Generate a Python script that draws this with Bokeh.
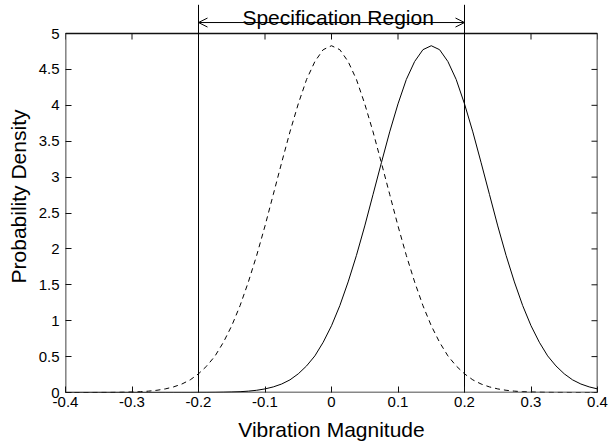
import math
from bokeh.plotting import figure
from bokeh.models import Range1d, FixedTicker, Arrow, OpenHead, Label
from bokeh.embed import file_html
from bokeh.resources import INLINE

# x positions of the sampled curve points
x_vals = [-0.4, -0.3875, -0.375, -0.3625, -0.35, -0.3375, -0.325, -0.3125,
          -0.3, -0.2875, -0.275, -0.2625, -0.25, -0.2375, -0.225, -0.2125,
          -0.2, -0.1875, -0.175, -0.1625, -0.15, -0.1375, -0.125, -0.1125,
          -0.1, -0.0875, -0.075, -0.0625, -0.05, -0.0375, -0.025, -0.0125,
          0.0, 0.0125, 0.025, 0.0375, 0.05, 0.0625, 0.075, 0.0875,
          0.1, 0.1125, 0.125, 0.1375, 0.15, 0.1625, 0.175, 0.1875,
          0.2, 0.2125, 0.225, 0.2375, 0.25, 0.2625, 0.275, 0.2875,
          0.3, 0.3125, 0.325, 0.3375, 0.35, 0.3625, 0.375, 0.3875, 0.4]
# dashed curve (centred at 0)
dashed_vals = [0.0, 0.0, 0.0, 0.0, 0.001, 0.001, 0.002, 0.004,
               0.007, 0.011, 0.019, 0.031, 0.05, 0.078, 0.118, 0.176,
               0.26, 0.37, 0.51, 0.70, 0.93, 1.21, 1.54, 1.91,
               2.32, 2.76, 3.20, 3.63, 4.02, 4.36, 4.61, 4.775,
               4.83, 4.775, 4.61, 4.36, 4.02, 3.63, 3.20, 2.76,
               2.32, 1.91, 1.54, 1.21, 0.93, 0.70, 0.51, 0.37,
               0.26, 0.176, 0.118, 0.078, 0.05, 0.031, 0.019, 0.011,
               0.007, 0.004, 0.002, 0.001, 0.001, 0.0, 0.0, 0.0, 0.0]
# solid curve (centred at 0.15)
solid_vals = [0.0, 0.0, 0.0, 0.0, 0.0, 0.0, 0.0, 0.0,
              0.0, 0.0, 0.0, 0.0, 0.0, 0.0, 0.0, 0.0,
              0.001, 0.001, 0.002, 0.004, 0.007, 0.011, 0.019, 0.031,
              0.05, 0.078, 0.118, 0.176, 0.26, 0.37, 0.51, 0.70,
              0.93, 1.21, 1.54, 1.91, 2.32, 2.76, 3.20, 3.63,
              4.02, 4.36, 4.61, 4.775, 4.83, 4.775, 4.61, 4.36,
              4.02, 3.63, 3.20, 2.76, 2.32, 1.91, 1.54, 1.21,
              0.93, 0.70, 0.51, 0.37, 0.26, 0.176, 0.118, 0.078, 0.05]
spec_limits = [-0.2, 0.2]
x_ticks = [-0.4, -0.3, -0.2, -0.1, 0.0, 0.1, 0.2, 0.3, 0.4]
x_tick_labels = ["-0.4", "-0.3", "-0.2", "-0.1", "0", "0.1", "0.2", "0.3", "0.4"]
y_ticks = [0, 0.5, 1, 1.5, 2, 2.5, 3, 3.5, 4, 4.5, 5]
y_tick_labels = ["0", "0.5", "1", "1.5", "2", "2.5", "3", "3.5", "4", "4.5", "5"]
region_label = "Specification Region"

FONT = "Liberation Sans"
FRAME = "#111111"

x_min, x_max = x_ticks[0], x_ticks[-1]
y_min, y_max = y_ticks[0], y_ticks[-1]

# the plotting area reaches above the axes box so the annotation above it can be drawn
p = figure(width=610, height=446, output_backend="svg", toolbar_location=None,
           x_range=Range1d(x_min, x_max), y_range=Range1d(y_min, 5.46),
           min_border_left=65, min_border_right=13, min_border_top=0,
           min_border_bottom=54)
p.background_fill_color = "white"
p.border_fill_color = "white"
p.outline_line_color = None
p.xgrid.visible = False
p.ygrid.visible = False

def style_axis(ax, ticks, labels):
    ax.ticker = FixedTicker(ticks=ticks)
    ax.major_label_overrides = {t: l for t, l in zip(ticks, labels)}
    ax.major_tick_in = 6
    ax.major_tick_out = 0
    ax.minor_tick_in = 0
    ax.minor_tick_out = 0
    ax.major_tick_line_color = FRAME
    ax.axis_line_color = None
    ax.major_label_text_font = FONT
    ax.major_label_text_color = "black"
    ax.major_label_text_font_size = "15px"
    ax.axis_label_text_font = FONT
    ax.axis_label_text_font_style = "normal"
    ax.axis_label_text_color = "black"
    ax.axis_label_text_font_size = "21px"

xa = p.xaxis[0]
style_axis(xa, x_ticks, x_tick_labels)
xa.axis_label = "Vibration Magnitude"
xa.major_label_standoff = 4
xa.axis_label_standoff = 8

ya = p.yaxis[0]
style_axis(ya, y_ticks, y_tick_labels)
ya.axis_label = "Probability Density"
ya.major_label_standoff = 6
ya.axis_label_standoff = 6

# axes box
p.quad(left=[x_min], right=[x_max], bottom=[y_min], top=[y_max],
       fill_color=None, line_color=FRAME, line_width=1.6)
# inward ticks on the top and right sides of the box
p.ray(x=x_ticks, y=[y_max] * len(x_ticks), length=6, length_units="screen",
      angle=-math.pi / 2, line_color=FRAME, line_width=1)
p.ray(x=[x_max] * len(y_ticks), y=y_ticks, length=6, length_units="screen",
      angle=math.pi, line_color=FRAME, line_width=1)

p.line(x_vals, dashed_vals, line_color="black", line_width=1, line_dash="5 4")
p.line(x_vals, solid_vals, line_color="black", line_width=1)

# specification limit lines (extend above the axes box)
p.segment(x0=spec_limits, y0=[y_min, y_min], x1=spec_limits, y1=[5.40, 5.40],
          line_color="black", line_width=1)

p.add_layout(Arrow(start=OpenHead(size=9, line_color="black", line_width=1),
                   end=OpenHead(size=9, line_color="black", line_width=1),
                   x_start=spec_limits[0], y_start=5.153, x_end=spec_limits[1], y_end=5.153,
                   line_color="black", line_width=1))
p.add_layout(Label(x=(spec_limits[0] + spec_limits[1]) / 2 + 0.01, y=5.225, text=region_label,
                   text_font=FONT, text_font_size="21px", text_color="black",
                   text_align="center", text_baseline="alphabetic"))

open("out.html", "w").write(file_html(p, INLINE))
